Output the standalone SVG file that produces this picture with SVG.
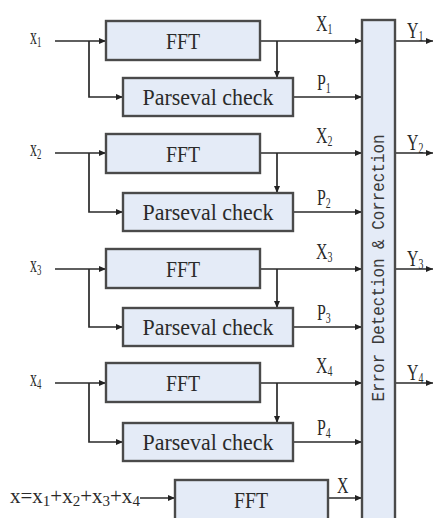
<svg xmlns="http://www.w3.org/2000/svg" width="435" height="518" viewBox="0 0 435 518">
<style>
.box{fill:#e4ebf7;stroke:#4a4a4a;stroke-width:2.4}
.ln{fill:none;stroke:#2a2a2a;stroke-width:1.7}
.t{font-family:"Liberation Serif","DejaVu Serif",serif;fill:#2a2a2a}
.big{font-size:24px;text-anchor:middle}
.lab{font-size:24px}
.sub{font-size:15px}
.mono{font-family:"Liberation Mono","DejaVu Sans Mono",monospace;font-size:18px;fill:#3a3a3a;text-anchor:middle}
</style>
<defs>
<marker id="a" markerWidth="7" markerHeight="6" refX="7" refY="3" orient="auto" markerUnits="userSpaceOnUse">
<path d="M0,0 L7,3 L0,6 z" fill="#222"/>
</marker>
</defs>
<rect width="435" height="518" fill="#fff"/>
<g id="connectors">
<path class="ln" d="M55,41 H106" marker-end="url(#a)"/>
<path class="ln" d="M89,41 V97 H123" marker-end="url(#a)"/>
<path class="ln" d="M260,41 H362" marker-end="url(#a)"/>
<path class="ln" d="M277,41 V78" marker-end="url(#a)"/>
<path class="ln" d="M293,97 H362" marker-end="url(#a)"/>
<path class="ln" d="M395,41 H433" marker-end="url(#a)"/>
<path class="ln" d="M55,153 H106" marker-end="url(#a)"/>
<path class="ln" d="M89,153 V212 H123" marker-end="url(#a)"/>
<path class="ln" d="M260,153 H362" marker-end="url(#a)"/>
<path class="ln" d="M277,153 V193" marker-end="url(#a)"/>
<path class="ln" d="M293,212 H362" marker-end="url(#a)"/>
<path class="ln" d="M395,153 H433" marker-end="url(#a)"/>
<path class="ln" d="M55,269 H106" marker-end="url(#a)"/>
<path class="ln" d="M89,269 V327 H123" marker-end="url(#a)"/>
<path class="ln" d="M260,269 H362" marker-end="url(#a)"/>
<path class="ln" d="M277,269 V308" marker-end="url(#a)"/>
<path class="ln" d="M293,327 H362" marker-end="url(#a)"/>
<path class="ln" d="M395,269 H433" marker-end="url(#a)"/>
<path class="ln" d="M55,383 H106" marker-end="url(#a)"/>
<path class="ln" d="M89,383 V442 H123" marker-end="url(#a)"/>
<path class="ln" d="M260,383 H362" marker-end="url(#a)"/>
<path class="ln" d="M277,383 V423" marker-end="url(#a)"/>
<path class="ln" d="M293,442 H362" marker-end="url(#a)"/>
<path class="ln" d="M395,383 H433" marker-end="url(#a)"/>
<path class="ln" d="M140,498 H175" marker-end="url(#a)"/>
<path class="ln" d="M328,498 H362" marker-end="url(#a)"/>
</g>
<g id="labels">
<text class="t lab" transform="translate(30,44) scale(0.58,1)">x<tspan class="sub" dy="3">1</tspan></text>
<text class="t lab" transform="translate(30,156) scale(0.58,1)">x<tspan class="sub" dy="3">2</tspan></text>
<text class="t lab" transform="translate(30,272) scale(0.58,1)">x<tspan class="sub" dy="3">3</tspan></text>
<text class="t lab" transform="translate(30,386) scale(0.58,1)">x<tspan class="sub" dy="3">4</tspan></text>
<text class="t lab" transform="translate(316,31) scale(0.66,1)">X<tspan class="sub" dy="3">1</tspan></text>
<text class="t lab" transform="translate(316,143) scale(0.66,1)">X<tspan class="sub" dy="3">2</tspan></text>
<text class="t lab" transform="translate(316,259) scale(0.66,1)">X<tspan class="sub" dy="3">3</tspan></text>
<text class="t lab" transform="translate(316,373) scale(0.66,1)">X<tspan class="sub" dy="3">4</tspan></text>
<text class="t lab" transform="translate(317,90) scale(0.66,1)">P<tspan class="sub" dy="3">1</tspan></text>
<text class="t lab" transform="translate(317,205) scale(0.66,1)">P<tspan class="sub" dy="3">2</tspan></text>
<text class="t lab" transform="translate(317,320) scale(0.66,1)">P<tspan class="sub" dy="3">3</tspan></text>
<text class="t lab" transform="translate(317,435) scale(0.66,1)">P<tspan class="sub" dy="3">4</tspan></text>
<text class="t lab" transform="translate(407,38) scale(0.66,1)">Y<tspan class="sub" dy="3">1</tspan></text>
<text class="t lab" transform="translate(407,150) scale(0.66,1)">Y<tspan class="sub" dy="3">2</tspan></text>
<text class="t lab" transform="translate(407,266) scale(0.66,1)">Y<tspan class="sub" dy="3">3</tspan></text>
<text class="t lab" transform="translate(407,380) scale(0.66,1)">Y<tspan class="sub" dy="3">4</tspan></text>
<text class="t lab" transform="translate(337,493) scale(0.66,1)">X</text>
<text class="t" x="10" y="503" style="font-size:21px">x=x<tspan class="sub" dy="3">1</tspan><tspan dy="-3">+x</tspan><tspan class="sub" dy="3">2</tspan><tspan dy="-3">+x</tspan><tspan class="sub" dy="3">3</tspan><tspan dy="-3">+x</tspan><tspan class="sub" dy="3">4</tspan></text>
</g>
<g id="fft1"><rect class="box" x="106" y="21" width="154" height="39"/><text class="t big" x="183" y="49" textLength="34" lengthAdjust="spacingAndGlyphs">FFT</text></g>
<g id="parseval1"><rect class="box" x="123" y="78" width="170" height="38"/><text class="t big" x="208" y="105" textLength="131" lengthAdjust="spacingAndGlyphs">Parseval check</text></g>
<g id="fft2"><rect class="box" x="106" y="134" width="154" height="39"/><text class="t big" x="183" y="162" textLength="34" lengthAdjust="spacingAndGlyphs">FFT</text></g>
<g id="parseval2"><rect class="box" x="123" y="193" width="170" height="38"/><text class="t big" x="208" y="220" textLength="131" lengthAdjust="spacingAndGlyphs">Parseval check</text></g>
<g id="fft3"><rect class="box" x="106" y="249" width="154" height="39"/><text class="t big" x="183" y="277" textLength="34" lengthAdjust="spacingAndGlyphs">FFT</text></g>
<g id="parseval3"><rect class="box" x="123" y="308" width="170" height="38"/><text class="t big" x="208" y="335" textLength="131" lengthAdjust="spacingAndGlyphs">Parseval check</text></g>
<g id="fft4"><rect class="box" x="106" y="363" width="154" height="39"/><text class="t big" x="183" y="391" textLength="34" lengthAdjust="spacingAndGlyphs">FFT</text></g>
<g id="parseval4"><rect class="box" x="123" y="423" width="170" height="38"/><text class="t big" x="208" y="450" textLength="131" lengthAdjust="spacingAndGlyphs">Parseval check</text></g>
<g id="fft-sum"><rect class="box" x="175" y="480" width="153" height="40"/><text class="t big" x="251" y="508" textLength="34" lengthAdjust="spacingAndGlyphs">FFT</text></g>
<g id="edc"><rect class="box" x="362" y="20" width="33" height="502"/><text class="mono" transform="translate(384,268) rotate(-90)" textLength="267" lengthAdjust="spacingAndGlyphs">Error Detection &amp; Correction</text></g>
</svg>
